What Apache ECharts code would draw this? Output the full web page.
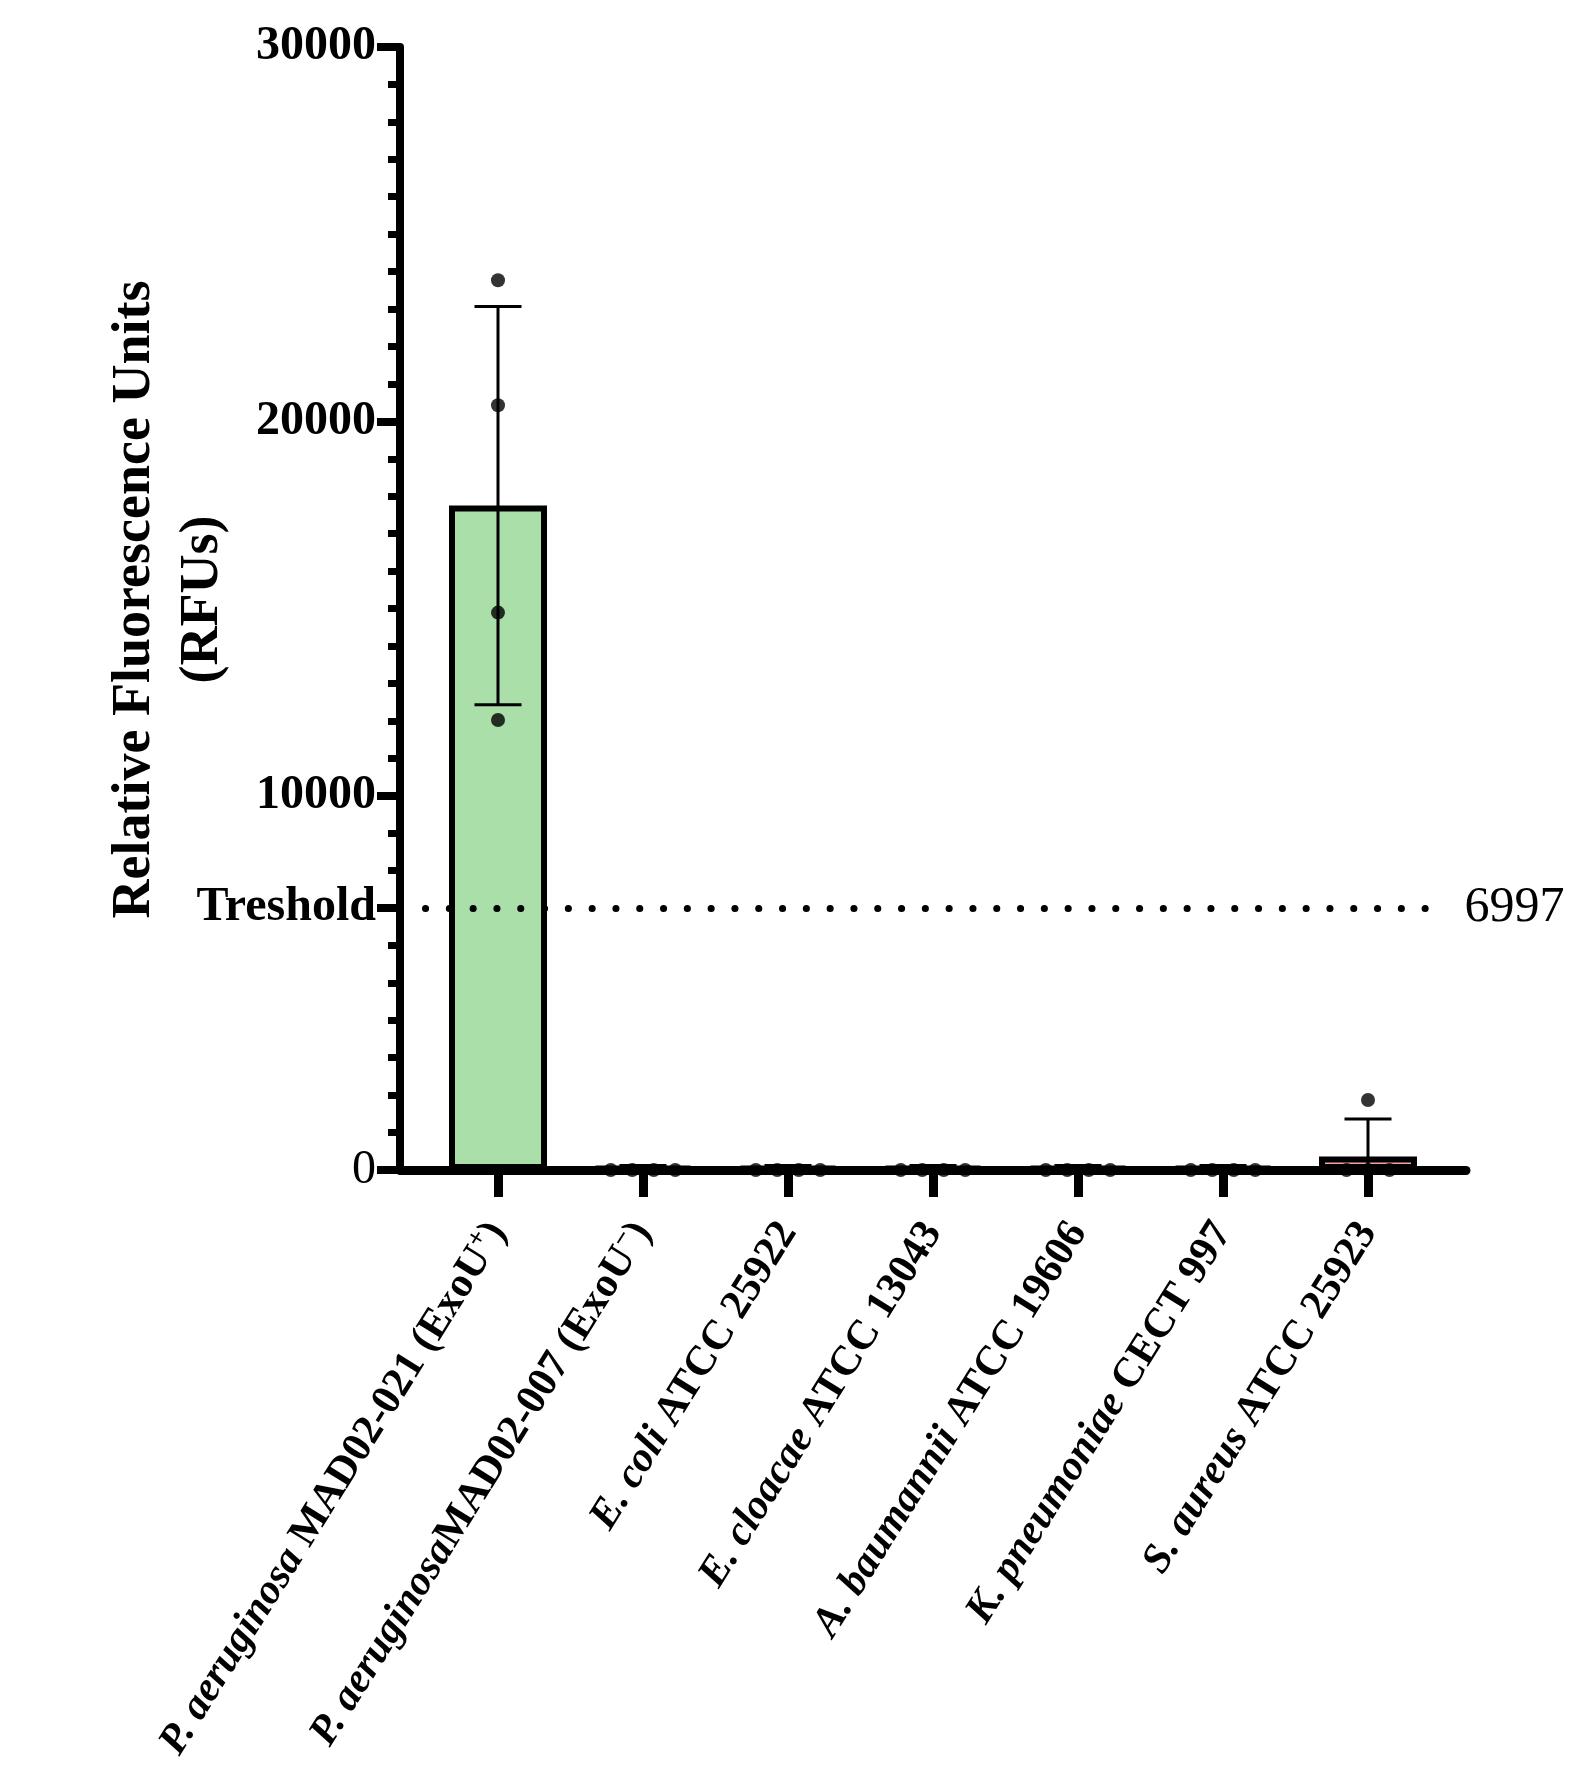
<!DOCTYPE html>
<html><head><meta charset="utf-8">
<script src="https://cdn.jsdelivr.net/npm/echarts@6/dist/echarts.min.js"></script>
<style>html,body{margin:0;padding:0;background:#fff}#c{width:1580px;height:1768px}</style>
</head><body><div id="c"></div>
<script>
// ---- data ----
const speciesNames = ['P. aeruginosa', 'P. aeruginosa', 'E. coli', 'E. cloacae', 'A. baumannii', 'K. pneumoniae', 'S. aureus'];
const strainNames = [' MAD02-021 (ExoU', 'MAD02-007 (ExoU', ' ATCC 25922', ' ATCC 13043', ' ATCC 19606', ' CECT 997', ' ATCC 25923'];
const strainSup = ['+', '\u2212', '', '', '', '', ''];
const strainTail = [')', ')', '', '', '', '', ''];
const meanRFU = [17750, 80, 80, 80, 80, 80, 360];
const sdRFU = [5320, 40, 40, 40, 40, 40, 1000];
const replicateRFU = [
  [23770, 20430, 14890, 12020],
  [0, 0, 0, 0],
  [0, 0, 0, 0],
  [0, 0, 0, 0],
  [0, 0, 0, 0],
  [0, 0, 0, 0],
  [1870, 0, 0, 0]
];
const thresholdRFU = 6997;
const thresholdLabel = 'Treshold';
const yMajorTicks = [0, 10000, 20000, 30000];
const barColors = ['#aadfa9', '#c9c9f0', '#f4e2a0', '#bfe3f0', '#e6c6ea', '#f0d0b0', '#f3a3a3'];

// ---- styling helpers ----
const FONT = 'Liberation Serif';
const catIdx = speciesNames.map((_, i) => String(i));

// spread overlapping replicate points horizontally (px offsets)
const SPREAD = 21.5, GROUP_TOL = 600;
const scatterData = [];
replicateRFU.forEach((vals, i) => {
  const groups = [];
  vals.forEach(v => {
    let g = groups.find(gr => Math.abs(gr.v - v) < GROUP_TOL);
    if (!g) { g = { v: v, items: [] }; groups.push(g); }
    g.items.push(v);
  });
  groups.forEach(g => {
    const n = g.items.length;
    g.items.forEach((v, k) => {
      scatterData.push({ value: [i, v], symbolOffset: [(k - (n - 1) / 2) * SPREAD, 0] });
    });
  });
});

const GRID_TOP = 47, GRID_BOTTOM = 598;
const chart = echarts.init(document.getElementById('c'), null, { renderer: 'canvas' });
chart.setOption({
  backgroundColor: '#fff',
  animation: false,
  grid: [
    { left: 400, right: 114, top: GRID_TOP, bottom: GRID_BOTTOM },
    { left: 425.5, width: 1015, top: GRID_TOP, bottom: GRID_BOTTOM }
  ],
  xAxis: [
    { gridIndex: 0, type: 'value', min: 0, max: 1,
      axisLine: { show: true, lineStyle: { color: '#000', width: 9 } },
      axisTick: { show: false }, axisLabel: { show: false }, splitLine: { show: false } },
    { gridIndex: 1, type: 'category', data: catIdx,
      axisLine: { show: false },
      axisTick: { show: true, alignWithLabel: true, length: 27, lineStyle: { color: '#000', width: 9 } },
      axisLabel: {
        interval: 0, rotate: 58, margin: 56, color: '#000',
        formatter: (v, i) => {
          const k = Number(v);
          let s = '{i|' + speciesNames[k] + '}{n|' + strainNames[k] + '}';
          if (strainSup[k]) s += '{s|' + strainSup[k] + '}';
          if (strainTail[k]) s += '{n|' + strainTail[k] + '}';
          return s;
        },
        rich: {
          i: { fontFamily: FONT, fontStyle: 'italic', fontWeight: 'bold', fontSize: 42, lineHeight: 48, color: '#000' },
          n: { fontFamily: FONT, fontWeight: 'bold', fontSize: 42, lineHeight: 48, color: '#000' },
          s: { fontFamily: FONT, fontWeight: 'bold', fontSize: 27, lineHeight: 27, verticalAlign: 'top', color: '#000' }
        }
      },
      splitLine: { show: false } }
  ],
  yAxis: [
    { gridIndex: 0, type: 'value', min: 0, max: 30000, interval: 10000,
      name: 'Relative Fluorescence Units\n(RFUs)', nameLocation: 'middle', nameGap: 163, nameRotate: 90,
      nameMoveOverlap: false,
      nameTextStyle: { fontFamily: FONT, fontWeight: 'bold', fontSize: 54, lineHeight: 68, color: '#000', padding: [0, 0, 0, 18] },
      axisLine: { show: true, lineStyle: { color: '#000', width: 8 } },
      axisTick: { show: true, length: 23, customValues: yMajorTicks.concat([thresholdRFU]), lineStyle: { color: '#000', width: 8 } },
      minorTick: { show: true, splitNumber: 10, length: 12, lineStyle: { color: '#000', width: 7 } },
      axisLabel: {
        customValues: yMajorTicks.concat([thresholdRFU]), margin: 24,
        formatter: v => v === thresholdRFU ? '{b|' + thresholdLabel + '}' : (v === 0 ? '{n|0}' : '{b|' + v + '}'),
        rich: {
          b: { fontFamily: FONT, fontWeight: 'bold', fontSize: 48, color: '#000' },
          n: { fontFamily: FONT, fontWeight: 'normal', fontSize: 48, color: '#000' }
        }
      },
      splitLine: { show: false } },
    { gridIndex: 1, type: 'value', min: 0, max: 30000, show: false }
  ],
  series: [
    { type: 'bar', xAxisIndex: 1, yAxisIndex: 1, barWidth: 98, z: 2,
      data: meanRFU.map((m, i) => ({ value: m, itemStyle: { color: barColors[i] } })),
      itemStyle: { borderColor: '#000', borderWidth: 6 },
      markLine: {
        silent: true, symbol: ['none', 'none'],
        data: [{ yAxis: thresholdRFU }],
        lineStyle: { color: '#000', width: 7, type: [0.1, 23.7], cap: 'round' },
        label: { show: true, position: 'end', distance: 24, formatter: String(thresholdRFU),
          fontFamily: FONT, fontWeight: 'normal', fontSize: 50, color: '#000' },
        emphasis: { disabled: true }
      }
    },
    { type: 'custom', xAxisIndex: 1, yAxisIndex: 1, z: 3, clip: true,
      data: meanRFU.map((m, i) => [i, m, sdRFU[i]]),
      renderItem: (params, api) => {
        const i = api.value(0), m = api.value(1), s = api.value(2);
        const top = api.coord([i, m + s]);
        const bot = api.coord([i, m - s]);
        const half = 23.5;
        const st = { stroke: '#000', lineWidth: 3 };
        return { type: 'group', children: [
          { type: 'line', shape: { x1: top[0], y1: top[1], x2: bot[0], y2: bot[1] }, style: st },
          { type: 'line', shape: { x1: top[0] - half, y1: top[1], x2: top[0] + half, y2: top[1] }, style: st },
          { type: 'line', shape: { x1: bot[0] - half, y1: bot[1], x2: bot[0] + half, y2: bot[1] }, style: st }
        ] };
      }
    },
    { type: 'scatter', xAxisIndex: 1, yAxisIndex: 1, z: 4, symbolSize: 14,
      itemStyle: { color: '#000' }, data: scatterData }
  ]
});
</script></body></html>
